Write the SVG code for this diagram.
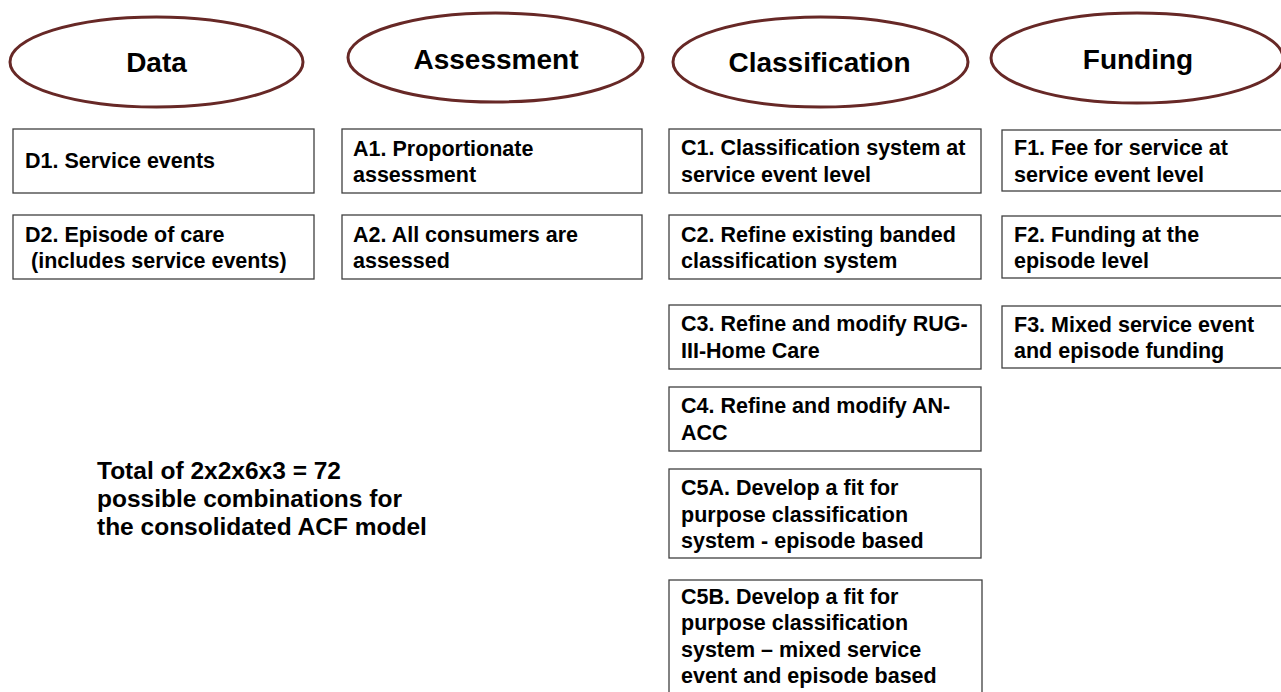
<svg xmlns="http://www.w3.org/2000/svg" width="1281" height="692" viewBox="0 0 1281 692">
<defs>
<style>
.hdr ellipse{fill:#ffffff;stroke:#672826;stroke-width:3}
.hdr text{font-family:"Liberation Sans",Arial,sans-serif;font-weight:bold;font-size:28px;fill:#000;text-anchor:middle}
.box rect{fill:#ffffff;stroke:#404040;stroke-width:1.3}
.box text{font-family:"Liberation Sans",Arial,sans-serif;font-weight:bold;font-size:21.5px;fill:#000}
.note{font-family:"Liberation Sans",Arial,sans-serif;font-weight:bold;font-size:24.5px;fill:#000}
</style>
</defs>
<rect x="0" y="0" width="1281" height="692" fill="#ffffff"/>

<g id="hdr-data" class="hdr"><ellipse cx="156.5" cy="62" rx="146.5" ry="45"/><text x="156.5" y="72">Data</text></g>
<g id="hdr-assessment" class="hdr"><ellipse cx="495.5" cy="57.5" rx="147.5" ry="44.5"/><text x="496" y="69">Assessment</text></g>
<g id="hdr-classification" class="hdr"><ellipse cx="820.5" cy="62" rx="147.5" ry="45"/><text x="819.5" y="72">Classification</text></g>
<g id="hdr-funding" class="hdr"><ellipse cx="1137" cy="58" rx="146" ry="45"/><text x="1138" y="69">Funding</text></g>

<g id="D1" class="box"><rect x="13" y="129" width="301" height="64"/><text x="25" y="168">D1. Service events</text></g>
<g id="D2" class="box"><rect x="13" y="215" width="301" height="64"/><text x="25" y="242">D2. Episode of care</text><text x="31" y="268">(includes service events)</text></g>

<g id="A1" class="box"><rect x="342" y="129" width="300" height="64"/><text x="353" y="156">A1. Proportionate</text><text x="353" y="182">assessment</text></g>
<g id="A2" class="box"><rect x="342" y="215" width="300" height="64"/><text x="353" y="242">A2. All consumers are</text><text x="353" y="268">assessed</text></g>

<g id="C1" class="box"><rect x="669" y="129" width="312" height="64"/><text x="681" y="155">C1. Classification system at</text><text x="681" y="182">service event level</text></g>
<g id="C2" class="box"><rect x="669" y="215" width="312" height="64"/><text x="681" y="242">C2. Refine existing banded</text><text x="681" y="268">classification system</text></g>
<g id="C3" class="box"><rect x="669" y="305" width="312" height="64"/><text x="681" y="331">C3. Refine and modify RUG-</text><text x="681" y="358">III-Home Care</text></g>
<g id="C4" class="box"><rect x="669" y="387" width="312" height="64"/><text x="681" y="413">C4. Refine and modify AN-</text><text x="681" y="440">ACC</text></g>
<g id="C5A" class="box"><rect x="669" y="469" width="312" height="89"/><text x="681" y="495">C5A. Develop a fit for</text><text x="681" y="522">purpose classification</text><text x="681" y="548">system - episode based</text></g>
<g id="C5B" class="box"><rect x="669" y="580" width="313" height="130"/><text x="681" y="604">C5B. Develop a fit for</text><text x="681" y="630">purpose classification</text><text x="681" y="657">system – mixed service</text><text x="681" y="683">event and episode based</text></g>

<g id="F1" class="box"><rect x="1002" y="130" width="300" height="61"/><text x="1014" y="155">F1. Fee for service at</text><text x="1014" y="182">service event level</text></g>
<g id="F2" class="box"><rect x="1002" y="216" width="300" height="62"/><text x="1014" y="242">F2. Funding at the</text><text x="1014" y="268">episode level</text></g>
<g id="F3" class="box"><rect x="1002" y="306" width="300" height="62"/><text x="1014" y="332">F3. Mixed service event</text><text x="1014" y="358">and episode funding</text></g>

<g id="connectors"></g>

<g id="note"><text class="note" x="97" y="479">Total of 2x2x6x3 = 72</text><text class="note" x="97" y="507">possible combinations for</text><text class="note" x="97" y="535">the consolidated ACF model</text></g>
</svg>
